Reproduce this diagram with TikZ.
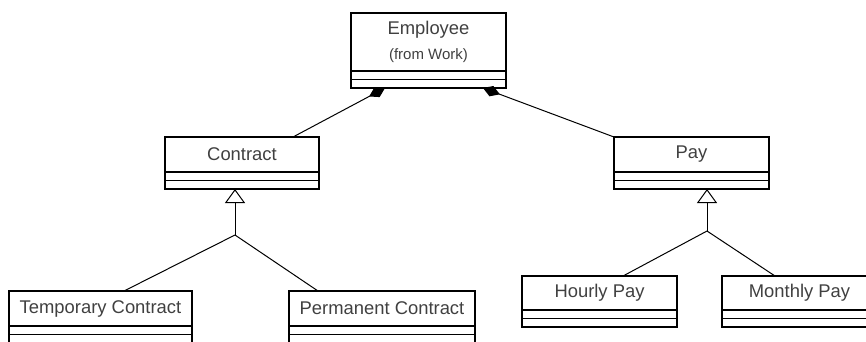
\documentclass[tikz,border=0pt]{standalone}
\usepackage{fontspec}
\setmainfont{Liberation Sans}
\usetikzlibrary{positioning}
\usetikzlibrary{arrows.meta}

\begin{document}
\begin{tikzpicture}[x=1pt,y=-1pt,node distance=0pt,
   cls/.style={draw,line width=1.1pt,anchor=north west,inner sep=0pt,outer sep=0pt,
      minimum height=35pt,text=black!75,font=\fontsize{18.4}{22}\selectfont},
   comp/.style={draw,line width=1.1pt,inner sep=0pt,outer sep=0pt,minimum height=8.5pt,minimum width=#1},
   owner/.style={line width=1pt,-{Diamond[length=18pt,width=11pt]}},
   isa/.style={line width=1pt,-{Triangle[open,length=14pt,width=20pt,line width=1pt]}},
   link/.style={line width=1pt}]
   \useasboundingbox (0,0) rectangle (866,341);
   % classes
   \node[cls,minimum width=155pt,minimum height=58pt,align=center] (employee) at (351,13)
      {\raisebox{-3pt}{Employee}\\[6pt]{\fontsize{15}{15}\selectfont(from Work)}};
   \node[comp=155pt,below=of employee] (employee_a) {};
   \node[comp=155pt,below=of employee_a] (employee_o) {};
   \node[cls,minimum width=154pt] (contract) at (165,137) {Contract};
   \node[comp=154pt,below=of contract] (contract_a) {};
   \node[comp=154pt,below=of contract_a] (contract_o) {};
   \node[cls,minimum width=155pt] (pay) at (614,137) {Pay};
   \node[comp=155pt,below=of pay] (pay_a) {};
   \node[comp=155pt,below=of pay_a] (pay_o) {};
   \node[cls,minimum width=183pt] (temp) at (9,291) {Temporary Contract};
   \node[comp=183pt,below=of temp] (temp_a) {};
   \node[comp=183pt,below=of temp_a] (temp_o) {};
   \node[cls,minimum width=186pt] (perm) at (289,291) {Permanent Contract};
   \node[comp=186pt,below=of perm] (perm_a) {};
   \node[comp=186pt,below=of perm_a] (perm_o) {};
   \node[cls,minimum width=155pt,minimum height=34pt] (hourly) at (522,276) {Hourly Pay};
   \node[comp=155pt,below=of hourly] (hourly_a) {};
   \node[comp=155pt,below=of hourly_a] (hourly_o) {};
   \node[cls,minimum width=155pt,minimum height=34pt] (monthly) at (722,276) {Monthly Pay};
   \node[comp=155pt,below=of monthly] (monthly_a) {};
   \node[comp=155pt,below=of monthly_a] (monthly_o) {};
   % composition
   \draw[owner] ([xshift=51pt]contract.north) -- ([xshift=-43.5pt]employee_o.south);
   \draw[owner] (pay.north west) -- ([xshift=54.5pt]employee_o.south);
   % generalization
   \coordinate (c_join) at (235,235);
   \coordinate (p_join) at (707,231);
   \draw[isa] (c_join) -- (c_join |- contract_o.south);
   \draw[link] (c_join) -- ([xshift=23.5pt]temp.north);
   \draw[link] (c_join) -- ([xshift=-64pt]perm.north);
   \draw[isa] (p_join) -- (p_join |- pay_o.south);
   \draw[link] (p_join) -- ([xshift=23.5pt]hourly.north);
   \draw[link] (p_join) -- ([xshift=-24.5pt]monthly.north);
\end{tikzpicture}
\end{document}
